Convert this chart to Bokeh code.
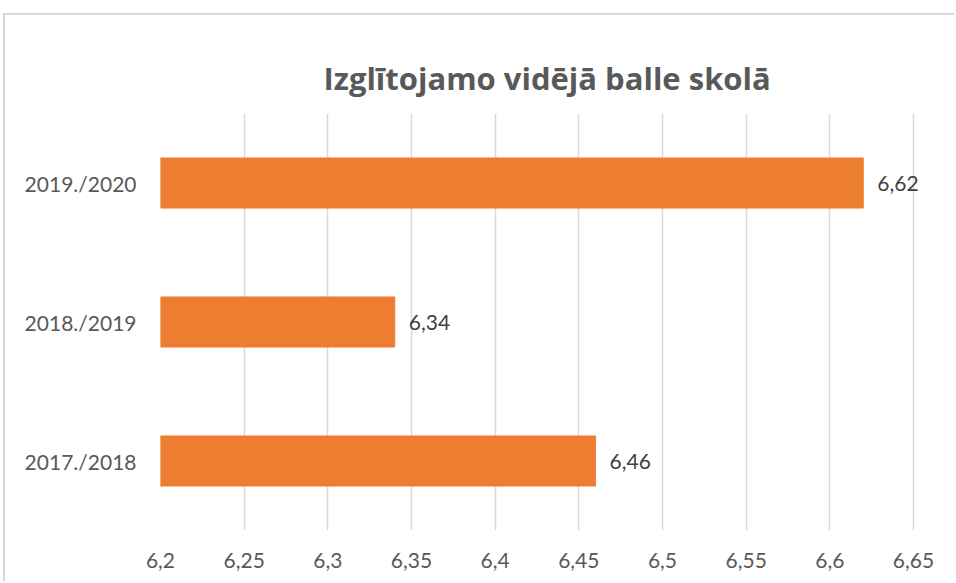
from bokeh.plotting import figure
from bokeh.models import FixedTicker, CustomJSTickFormatter, ColumnDataSource, LabelSet, FactorRange
from bokeh.core.properties import value
from bokeh.embed import file_html
from bokeh.resources import INLINE

categories = ["2017./2018", "2018./2019", "2019./2020"]
values = [6.46, 6.34, 6.62]
value_labels = ["6,46", "6,34", "6,62"]
x_ticks = [6.2, 6.25, 6.3, 6.35, 6.4, 6.45, 6.5, 6.55, 6.6, 6.65]

FONT = "Lato"
GREY = "#595959"

src = ColumnDataSource(dict(cat=categories, val=values, lab=value_labels))

p = figure(width=951, height=568, output_backend="svg", toolbar_location=None,
           y_range=FactorRange(factors=categories, range_padding=0),
           x_range=(6.2, 6.6757),
           min_border_left=155, min_border_right=0, min_border_top=98, min_border_bottom=53,
           title="Izglītojamo vidējā balle skolā",
           margin=(13, 0, 0, 3))
p.styles = {"border-left": "2px solid #d9d9d9", "border-top": "2px solid #d9d9d9"}

p.hbar(y="cat", right="val", left=6.2, height=0.36, source=src, color="#ED7D31")
p.add_layout(LabelSet(x="val", y="cat", text="lab", source=src, x_offset=14,
                      text_baseline="middle", text_font=value(FONT), text_font_size="21px",
                      text_color="#404040"))

p.title.text_font = "Open Sans"
p.title.text_font_size = "31px"
p.title.text_font_style = "bold"
p.title.text_color = GREY
p.title.align = "left"
p.title.offset = 163
p.title.standoff = 30
p.title.padding = (0, 0, 14, 0)

p.outline_line_color = None
p.background_fill_color = "white"
p.border_fill_color = "white"

p.xaxis.ticker = FixedTicker(ticks=x_ticks)
p.xaxis.formatter = CustomJSTickFormatter(code="return Number(tick.toFixed(2)).toString().replace('.', ',');")
p.xaxis.axis_line_color = None
p.xaxis.major_tick_line_color = None
p.xaxis.minor_tick_line_color = None
p.xaxis.major_label_standoff = 16
p.xaxis.major_label_text_font = FONT
p.xaxis.major_label_text_font_size = "21px"
p.xaxis.major_label_text_color = GREY

p.yaxis.axis_line_color = None
p.yaxis.major_tick_line_color = None
p.yaxis.major_label_standoff = 18
p.yaxis.major_label_text_font = FONT
p.yaxis.major_label_text_font_size = "21px"
p.yaxis.major_label_text_color = GREY

p.xgrid.grid_line_color = "#d9d9d9"
p.xgrid.grid_line_width = 1.5
p.ygrid.grid_line_color = None

open("out.html", "w").write(file_html(p, INLINE))
